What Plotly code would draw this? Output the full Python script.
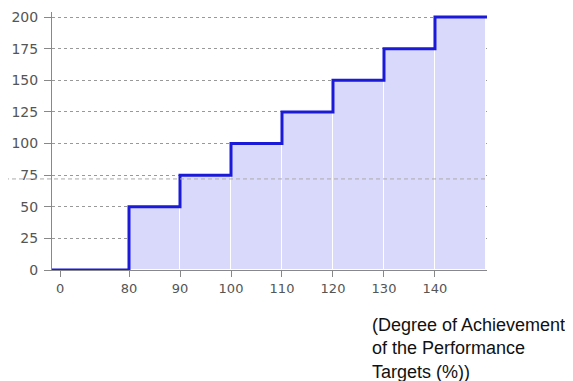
import plotly.graph_objects as go

# Data
x_labels = ["0", "80", "90", "100", "110", "120", "130", "140"]
step_x = [80, 90, 100, 110, 120, 130, 140]          # achievement thresholds (%)
step_y = [50, 75, 100, 125, 150, 175, 200]          # level reached at each threshold
base_level = 0
ref_level = 72                                       # dashed reference line
y_ticks = [0, 25, 50, 75, 100, 125, 150, 175, 200]

# axis has a visual break between 0 and 80: position of the "0" label
zero_pos = 66.5
x_min, x_max = 64.9, 150.2
tick_pos = [zero_pos] + step_x

fig = go.Figure()

# filled area drawn as contiguous bars (white separators between intervals)
bar_x = [(a + b) / 2 for a, b in zip(step_x, step_x[1:] + [step_x[-1] + 10])]
fig.add_trace(go.Bar(
    x=bar_x, y=step_y, width=10,
    marker=dict(color="#d9d9fb", line=dict(color="white", width=1)),
    hoverinfo="skip", showlegend=False,
))

# step line
line_x = [x_min] + step_x + [x_max]
line_y = [base_level] + step_y + [step_y[-1]]
fig.add_trace(go.Scatter(
    x=line_x, y=line_y, mode="lines", line=dict(shape="hv", color="#1a1ad8", width=3),
    showlegend=False, cliponaxis=False,
))

fig.add_shape(type="line", xref="paper", yref="y", x0=-0.108, x1=1, y0=ref_level, y1=ref_level,
              line=dict(color="#aaaaaa", width=1, dash="4px,3px"), layer="above")

fig.add_annotation(
    text="(Degree of Achievement<br>of the Performance<br>Targets (%))",
    xref="paper", yref="paper", x=(370 - 52) / 435, y=-(313 - 270) / 258,
    xanchor="left", yanchor="top", align="left", showarrow=False,
    font=dict(family="Liberation Sans, Arial", size=18, color="#111111"),
)

# page body has an 8px margin: shrink the figure so the plot sits where the reference has it
fig.update_layout(
    width=565, height=373,
    margin=dict(l=44, r=86, t=4, b=111),
    paper_bgcolor="white", plot_bgcolor="white",
    bargap=0,
    font=dict(family="DejaVu Sans, Verdana", size=12, color="#555555"),
)
fig.update_xaxes(
    range=[x_min, x_max], tickvals=tick_pos, ticktext=x_labels, automargin=False,
    showgrid=False, zeroline=False, showline=True, linecolor="#888888", linewidth=1,
    ticks="outside", ticklen=6, tickcolor="#888888",
    tickfont=dict(size=13, color="#555555"),
)
fig.update_yaxes(
    range=[0, 204], tickvals=y_ticks, automargin=False,
    showgrid=True, gridcolor="#999999", griddash="dot", gridwidth=1,
    zeroline=False, showline=True, linecolor="#888888", linewidth=1,
    ticks="outside", ticklen=7, tickcolor="#888888", ticklabelstandoff=3,
    tickfont=dict(size=14, color="#555555"),
)

fig.write_html("out.html")
